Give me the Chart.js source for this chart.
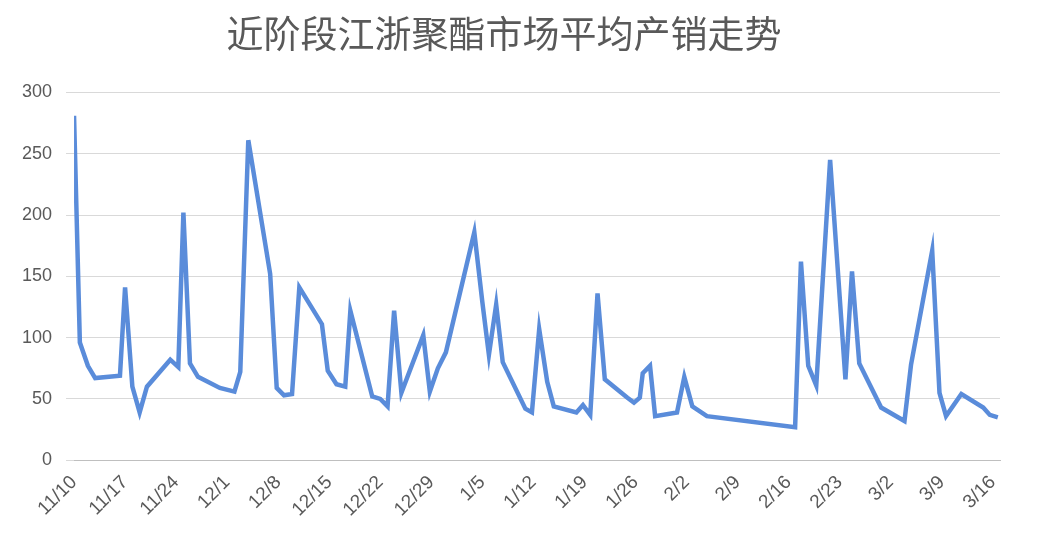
<!DOCTYPE html>
<html>
<head>
<meta charset="utf-8">
<script src="https://cdn.jsdelivr.net/npm/chart.js@4/dist/chart.umd.min.js"></script>
<style>
  html, body { margin: 0; padding: 0; background: #fff; }
  #wrap { width: 1040px; height: 546px; position: relative; }
</style>
</head>
<body>
<div id="wrap"><canvas id="myChart"></canvas></div>
<script>
// days after 11/10, and the average sales value on that day
const dayOffsets = [0, 0.8, 1.9, 2.9, 6.3, 7, 8, 9, 10, 13.2, 14.3, 15, 15.9, 17, 20, 22, 22.8, 23.9, 26.9, 27.8,
  28.8, 29.9, 30.9, 34, 34.8, 36, 37.2, 37.9, 40.9, 42, 43, 43.9, 44.9, 47.9, 48.8, 49.9, 51, 54.9, 56, 56.9,
  57.9, 58.8, 61.9, 62.8, 63.8, 64.9, 65.8, 68.9, 69.8, 70.8, 71.8, 72.8, 75.9, 76.8, 77.6, 78, 79, 79.7, 82.7, 83.7,
  84.8, 86.8, 98.9, 99.7, 100.7, 101.8, 103.7, 105.8, 106.7, 107.7, 110.7, 113.9, 114.8, 117.7, 118.7, 119.6, 121.7, 124.7, 125.6, 126.7];
const salesValues = [281, 96, 77, 67, 69, 141, 60, 39, 60, 82, 76, 202, 79, 68, 59, 56, 72, 261, 152, 59,
  53, 54, 141, 111, 73, 62, 60, 122, 52, 50, 44, 122, 55, 102, 56, 75, 88, 186, 129, 86,
  127, 80, 42, 39, 107, 64, 44, 39, 45, 37, 136, 66, 51, 47, 51, 71, 77, 36, 39, 68,
  44, 36, 27, 162, 77, 61, 245, 66, 154, 79, 43, 32, 78, 171, 55, 36, 54, 43, 37, 35];
const tickLabels = ['11/10', '11/17', '11/24', '12/1', '12/8', '12/15', '12/22', '12/29', '1/5', '1/12',
  '1/19', '1/26', '2/2', '2/9', '2/16', '2/23', '3/2', '3/9', '3/16'];

const points = dayOffsets.map((d, i) => ({ x: d, y: salesValues[i] }));

const ctx = document.getElementById('myChart').getContext('2d');
new Chart(ctx, {
    type: 'scatter',
    data: {
        datasets: [{
            data: points,
            showLine: true,
            borderColor: '#5a8cda',
            borderWidth: 4.5,
            pointRadius: 0,
            tension: 0
        }]
    },
    options: {
        responsive: true,
        maintainAspectRatio: false,
        animation: false,
        layout: { padding: { left: 8, right: 40, top: 4, bottom: 22 } },
        plugins: {
            legend: { display: false },
            tooltip: { enabled: false },
            title: {
                display: true,
                text: '近阶段江浙聚酯市场平均产销走势',
                color: '#595959',
                font: { size: 37, family: 'Noto Sans CJK SC', weight: 'normal' },
                padding: { top: 8, bottom: 36 }
            }
        },
        scales: {
            x: {
                type: 'linear',
                min: 0,
                max: 127,
                afterBuildTicks: axis => {
                    axis.ticks = tickLabels.map((t, i) => ({ value: i * 7 }));
                },
                grid: { display: false },
                border: { color: '#bfbfbf' },
                ticks: {
                    autoSkip: false,
                    maxRotation: 45,
                    minRotation: 45,
                    color: '#595959',
                    font: { size: 19, family: 'Liberation Sans' },
                    callback: v => tickLabels[Math.round(v / 7)] || ''
                }
            },
            y: {
                min: 0,
                max: 300,
                grid: { color: '#d9d9d9' },
                border: { display: false },
                ticks: {
                    stepSize: 50,
                    padding: 14,
                    color: '#595959',
                    font: { size: 18, family: 'Liberation Sans' }
                }
            }
        }
    }
});
</script>
</body>
</html>
